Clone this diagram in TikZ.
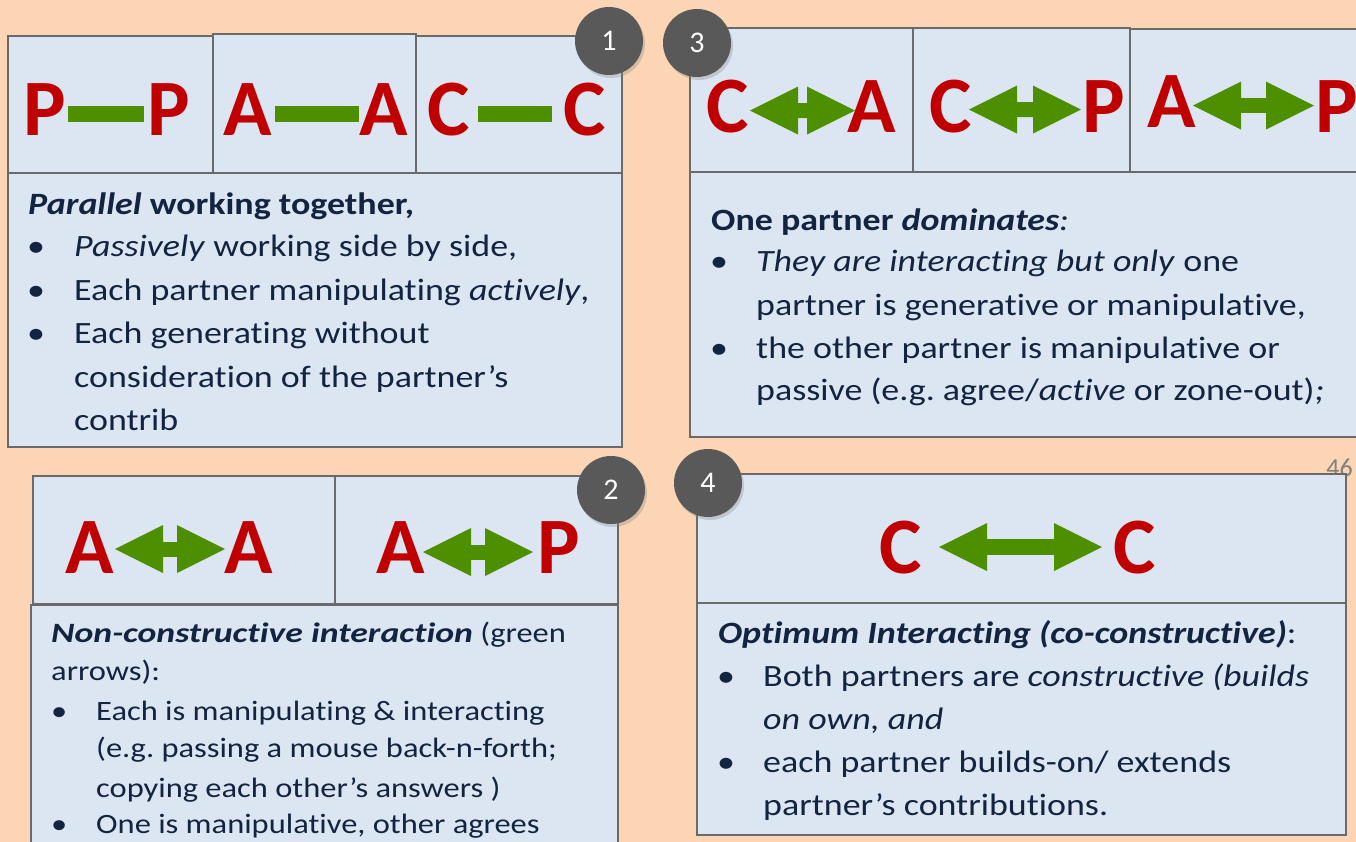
\documentclass[tikz,border=0pt]{standalone}
\usepackage{fontspec}
\setmainfont{Carlito}
\newfontfamily\bodyfont{Carlito}[FakeStretch=1.16, RawFeature={-liga;-calt;-dlig;-rlig}]
\usetikzlibrary{arrows.meta,shadows}

\definecolor{peach}{HTML}{FCD5B4}
\definecolor{cellfill}{HTML}{DCE6F2}
\definecolor{cellline}{HTML}{6A6A6A}
\definecolor{ink}{HTML}{12243F}
\definecolor{letterred}{HTML}{C00000}
\definecolor{linkgreen}{HTML}{4E8F00}
\definecolor{badgegray}{HTML}{595959}

\tikzset{
  panel/.style={fill=cellfill, draw=cellline, line width=1.8pt},
  letter/.style={anchor=base, inner sep=0pt, text=letterred,
    font=\fontsize{80}{80}\selectfont\bfseries},
  bar/.style={draw=linkgreen, line width=16pt},
  twoway/.style={draw=linkgreen, line width=#1,
    {Triangle[length=48pt,width=48pt,line width=0pt]}-{Triangle[length=48pt,width=48pt,line width=0pt]}},
  twoway/.default=15pt,
  badge/.style={circle, fill=badgegray, text=white, minimum size=68pt, inner sep=0pt,
    font=\fontsize{30}{30}\selectfont,
    drop shadow={opacity=0.3, shadow xshift=2pt, shadow yshift=-3pt}},
  txt/.style={anchor=base west, inner sep=0pt, text=ink,
    font=\bodyfont\frenchspacing\fontsize{31}{36}\selectfont},
  stxt/.style={anchor=base west, inner sep=0pt, text=ink,
    font=\bodyfont\frenchspacing\fontsize{28}{32}\selectfont},
}

\begin{document}
\begin{tikzpicture}[x=1pt, y=-1pt]
  \fill[peach] (0,0) rectangle (1356,842);
  \useasboundingbox (0,0) rectangle (1356,842);

  % ---------- panel 1: parallel ----------
  \draw[panel] (8,36) rectangle (213,173);
  \draw[panel] (213,34) rectangle (416,173);
  \draw[panel] (416,36) rectangle (622,173);
  \draw[panel] (8,173) rectangle (622,447);

  \node[letter] (p1l) at (45,136) {P};
  \node[letter] (p1r) at (169,136) {P};
  \node[letter] (a1l) at (248,136) {A};
  \node[letter] (a1r) at (384,136) {A};
  \node[letter] (c1l) at (449,136) {C};
  \node[letter] (c1r) at (585,136) {C};
  \draw[bar, shorten <=23pt, shorten >=25pt] ([yshift=-4pt]p1l.center) -- ([yshift=-4pt]p1r.center);
  \draw[bar, shorten <=27pt, shorten >=25pt] ([yshift=-4pt]a1l.center) -- ([yshift=-4pt]a1r.center);
  \draw[bar, shorten <=29pt, shorten >=33pt] ([yshift=-4pt]c1l.center) -- ([yshift=-4pt]c1r.center);

  \node[txt] (t1a) at (28,215) {\textbf{\textit{Parallel} working together,}};
  \node[txt] (b1a) at (27,257) {•};
  \node[txt] (t1b) at (74,257) {\textit{Passively} working side by side,};
  \node[txt] (b1b) at (27,300) {•};
  \node[txt] (t1c) at (74,300) {Each partner manipulating \textit{actively},};
  \node[txt] (b1c) at (27,343) {•};
  \node[txt] (t1d) at (74,343) {Each generating without};
  \node[txt] (t1e) at (74,387) {consideration of the partner’s};
  \node[txt] (t1f) at (74,430) {contrib};

  % ---------- panel 3: one partner dominates ----------
  \draw[panel] (690,28) rectangle (913,172);
  \draw[panel] (913,28) rectangle (1130,172);
  \draw[panel] (1130,29) rectangle (1362,172);
  \draw[panel] (690,172) rectangle (1362,437);

  \node[letter] (c3a) at (728,133) {C};
  \node[letter] (a3a) at (872,133) {A};
  \node[letter] (c3b) at (951,133) {C};
  \node[letter] (p3b) at (1103.5,133) {P};
  \node[letter] (a3c) at (1171.5,128) {A};
  \node[letter] (p3c) at (1337,133) {P};
  \draw[twoway, shorten <=22pt, shorten >=17pt] ([yshift=-3.5pt]c3a.center) -- ([yshift=-3.5pt]a3a.center);
  \draw[twoway, shorten <=18pt, shorten >=22.5pt] ([yshift=-2.5pt]c3b.center) -- ([yshift=-2.5pt]p3b.center);
  \draw[twoway, shorten <=21.5pt, shorten >=23pt] ([yshift=-3.5pt]a3c.center) -- ([yshift=-3.5pt]a3c.center -| p3c.center);

  \node[txt] (t3a) at (711,231) {\textbf{One partner \textit{dominates}}\textit{:}};
  \node[txt] (b3a) at (710,272) {•};
  \node[txt] (t3b) at (756,272) {\textit{They are interacting but only} one};
  \node[txt] (t3c) at (756,315) {partner is generative or manipulative,};
  \node[txt] (b3b) at (710,358) {•};
  \node[txt] (t3d) at (756,358) {the other partner is manipulative or};
  \node[txt] (t3e) at (756,400) {passive (e.g. agree/\textit{active} or zone-out)\textit{;}};

  % ---------- page number ----------
  \node[anchor=base east, inner sep=0pt, text=gray, font=\fontsize{26}{26}\selectfont] (pg) at (1353,476) {46};

  % ---------- panel 2: non-constructive ----------
  \draw[panel] (33,476) rectangle (335,604);
  \draw[panel] (335,476) rectangle (618,604);
  \draw[panel] (31,605) rectangle (618,850);

  \node[letter] (a2a) at (90,573) {A};
  \node[letter] (a2b) at (249,573) {A};
  \node[letter] (a2c) at (400.5,573) {A};
  \node[letter] (p2c) at (558.5,573) {P};
  \draw[twoway, shorten <=25pt, shorten >=24pt] ([yshift=-2pt]a2a.center) -- ([yshift=-2pt]a2b.center);
  \draw[twoway, shorten <=22.5pt, shorten >=25.5pt] ([yshift=-5pt]a2c.center) -- ([yshift=-5pt]p2c.center);

  \node[stxt] (t2a) at (51,642) {\scalebox{1.1}[1]{\textbf{\textit{Non-constructive interaction}}} (green};
  \node[stxt] (t2b) at (51,680) {arrows):};
  \node[stxt] (b2a) at (51,720) {•};
  \node[stxt] (t2c) at (96,720) {Each is manipulating \& interacting};
  \node[stxt] (t2d) at (96,757) {(e.g. passing a mouse back-n-forth;};
  \node[stxt] (t2e) at (96,797) {copying each other’s answers )};
  \node[stxt] (b2b) at (51,833) {•};
  \node[stxt] (t2f) at (96,833) {One is manipulative, other agrees};

  % ---------- panel 4: co-constructive ----------
  \draw[panel] (697,474) rectangle (1346,603);
  \draw[panel] (697,603) rectangle (1346,835);

  \node[letter] (c4a) at (901,573) {C};
  \node[letter] (c4b) at (1135,573) {C};
  \draw[twoway=16pt, shorten <=38pt, shorten >=33pt] (c4a.center) -- (c4b.center);

  \node[txt] (t4a) at (718,643) {\textbf{\textit{Optimum Interacting (co-constructive)}}:};
  \node[txt] (b4a) at (717,686) {•};
  \node[txt] (t4b) at (763,686) {Both partners are \textit{constructive (builds}};
  \node[txt] (t4c) at (763,729) {\textit{on own, and}};
  \node[txt] (b4b) at (717,772) {•};
  \node[txt] (t4d) at (763,772) {each partner builds-on/ extends};
  \node[txt] (t4e) at (763,815) {partner’s contributions.};

  % ---------- numbered badges ----------
  \node[badge] (n1) at (609,41) {1};
  \node[badge] (n3) at (697,43) {3};
  \node[badge] (n2) at (611,490) {2};
  \node[badge] (n4) at (708,483) {4};
\end{tikzpicture}
\end{document}
